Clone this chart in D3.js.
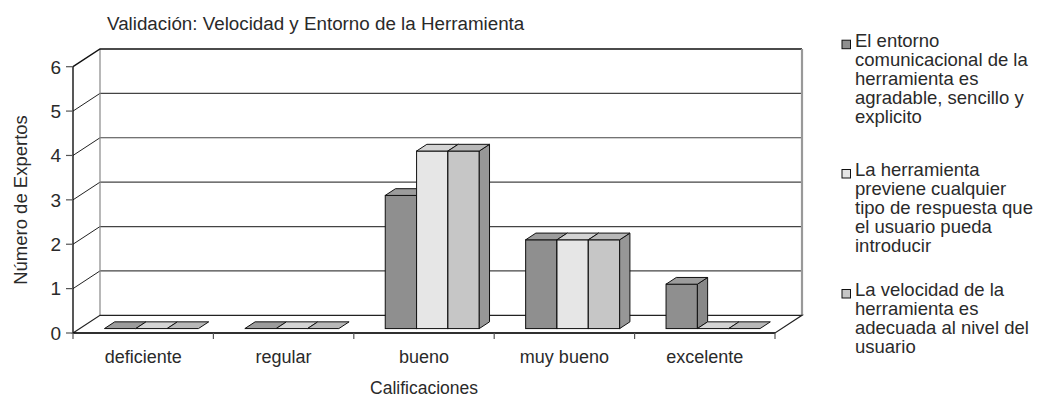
<!DOCTYPE html>
<html>
<head>
<meta charset="utf-8">
<script src="https://cdn.jsdelivr.net/npm/d3@7"></script>
<style>
  body { margin: 0; background: #fff; }
  text { font-family: "Liberation Sans", Arial, sans-serif; fill: #2a2a2a; }
</style>
</head>
<body>
<svg id="chart" width="1039" height="402"></svg>
<script>
// data
var categories = ["deficiente", "regular", "bueno", "muy bueno", "excelente"];
var seriesNames = [
  ["El entorno", "comunicacional de la", "herramienta es", "agradable, sencillo y", "explicito"],
  ["La herramienta", "previene cualquier", "tipo de respuesta que", "el usuario pueda", "introducir"],
  ["La velocidad de la", "herramienta es", "adecuada al nivel del", "usuario"]
];
var entorno   = [0, 0, 3, 2, 1];
var previene  = [0, 0, 4, 2, 0];
var velocidad = [0, 0, 4, 2, 0];
var yTicks = [0, 1, 2, 3, 4, 5, 6];

var values = [entorno, previene, velocidad];
var fronts = ["#8f8f8f", "#e6e6e6", "#c6c6c6"];
var tops   = ["#9c9c9c", "#d4d4d4", "#b8b8b8"];
var sides  = ["#888888", "#b0b0b0", "#979797"];

var svg = d3.select("#chart");

// scales
var x0 = d3.scaleBand().domain(categories).range([73, 775]);
var x1 = d3.scaleBand().domain([0, 1, 2]).range([0, x0.bandwidth()]).paddingOuter(0.74);
var y = d3.scaleLinear().domain([0, 6]).range([333, 66.7]);

// depth of the box and of the bars
var dx = 27, dy = -17.7;
var f0 = 0.25, fd = 0.38;

// back wall + gridlines
yTicks.forEach(function (t) {
  if (t > 0 && t < 6) {
    svg.append("line")
      .attr("x1", 73).attr("y1", y(t))
      .attr("x2", 73 + dx).attr("y2", y(t) + dy)
      .attr("stroke", "#222").attr("stroke-width", 1);
    svg.append("line")
      .attr("x1", 73 + dx).attr("y1", y(t) + dy)
      .attr("x2", 775 + dx).attr("y2", y(t) + dy)
      .attr("stroke", "#444").attr("stroke-width", 1.2);
  }
});
// left wall back edge
svg.append("line")
  .attr("x1", 73 + dx).attr("y1", y(6) + dy)
  .attr("x2", 73 + dx).attr("y2", y(0) + dy)
  .attr("stroke", "#888").attr("stroke-width", 1.2);
// top edge
svg.append("polyline")
  .attr("points", [[73, y(6)], [73 + dx, y(6) + dy], [775 + dx, y(6) + dy]].join(" "))
  .attr("fill", "none").attr("stroke", "#111").attr("stroke-width", 1.4);
// right edge
svg.append("line")
  .attr("x1", 775 + dx).attr("y1", y(6) + dy)
  .attr("x2", 775 + dx).attr("y2", y(0) + dy)
  .attr("stroke", "#999").attr("stroke-width", 2.2);
// floor
svg.append("polygon")
  .attr("points", [[73, y(0)], [73 + dx, y(0) + dy], [775 + dx, y(0) + dy], [775, y(0)]].join(" "))
  .attr("fill", "#fff").attr("stroke", "#222").attr("stroke-width", 1.2);

// y axis
svg.append("line")
  .attr("x1", 73).attr("y1", y(6)).attr("x2", 73).attr("y2", y(0))
  .attr("stroke", "#111").attr("stroke-width", 1.4);
yTicks.forEach(function (t) {
  svg.append("line")
    .attr("x1", 66).attr("y1", y(t)).attr("x2", 73).attr("y2", y(t))
    .attr("stroke", "#555").attr("stroke-width", 1.2);
  svg.append("text")
    .attr("x", 61).attr("y", y(t) + 6.8)
    .attr("text-anchor", "end")
    .style("font-size", "19px")
    .text(t);
});

// x axis
svg.append("line")
  .attr("x1", 73).attr("y1", y(0)).attr("x2", 775).attr("y2", y(0))
  .attr("stroke", "#111").attr("stroke-width", 1.4);
categories.concat(["end"]).forEach(function (c, i) {
  var xx = 73 + i * x0.step();
  svg.append("line")
    .attr("x1", xx).attr("y1", y(0)).attr("x2", xx).attr("y2", y(0) + 6)
    .attr("stroke", "#555").attr("stroke-width", 1.2);
});
categories.forEach(function (c) {
  svg.append("text")
    .attr("x", x0(c) + x0.bandwidth() / 2).attr("y", y(0) + 30)
    .attr("text-anchor", "middle")
    .style("font-size", "18px")
    .text(c);
});

// bars
var bx = f0 * dx, by = f0 * dy, ddx = fd * dx, ddy = fd * dy;
categories.forEach(function (c, ci) {
  values.forEach(function (vals, si) {
    var xl = x0(c) + x1(si) + bx + 1.5;
    var xr = xl + x1.bandwidth();
    var yb = y(0) + by;
    var yt = y(vals[ci]) + by;
    var g = svg.append("g");
    if (vals[ci] > 0) {
      g.append("rect")
        .attr("x", xl).attr("y", yt)
        .attr("width", xr - xl).attr("height", yb - yt)
        .attr("fill", fronts[si]).attr("stroke", "#111").attr("stroke-width", 1);
      g.append("polygon")
        .attr("points", [[xr, yt], [xr + ddx, yt + ddy], [xr + ddx, yb + ddy], [xr, yb]].join(" "))
        .attr("fill", sides[si]).attr("stroke", "#111").attr("stroke-width", 1);
    }
    g.append("polygon")
      .attr("points", [[xl, yt], [xl + ddx, yt + ddy], [xr + ddx, yt + ddy], [xr, yt]].join(" "))
      .attr("fill", tops[si]).attr("stroke", "#111").attr("stroke-width", 1);
  });
});

// titles
svg.append("text")
  .attr("x", 107).attr("y", 30)
  .style("font-size", "18.8px")
  .text("Validación: Velocidad y Entorno de la Herramienta");
svg.append("text")
  .attr("x", 424).attr("y", 394)
  .attr("text-anchor", "middle")
  .style("font-size", "17.5px")
  .text("Calificaciones");
svg.append("text")
  .attr("transform", "translate(27,200) rotate(-90)")
  .attr("text-anchor", "middle")
  .style("font-size", "18.5px")
  .text("Número de Expertos");

// legend
var legendTop = [46.7, 176, 296];
var lineH = 19;
seriesNames.forEach(function (lines, si) {
  svg.append("rect")
    .attr("x", 842).attr("y", legendTop[si] - 6.5)
    .attr("width", 8.5).attr("height", 8.5)
    .attr("fill", fronts[si]).attr("stroke", "#111").attr("stroke-width", 1);
  var t = svg.append("text").style("font-size", "18.5px");
  lines.forEach(function (l, li) {
    t.append("tspan")
      .attr("x", 855).attr("y", legendTop[si] + li * lineH)
      .text(l);
  });
});
</script>
</body>
</html>
